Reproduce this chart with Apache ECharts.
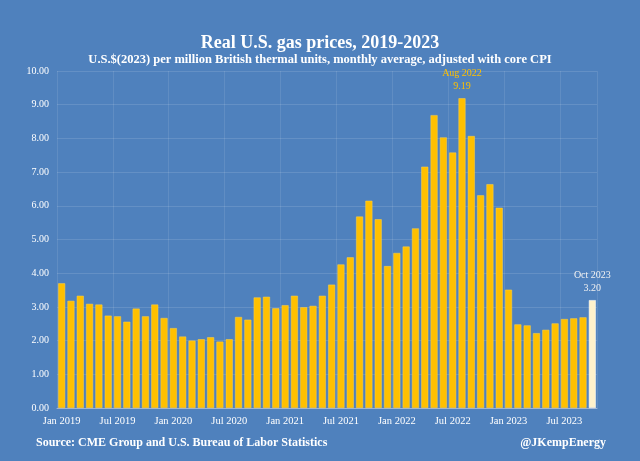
<!DOCTYPE html>
<html><head><meta charset="utf-8">
<script src="https://cdn.jsdelivr.net/npm/echarts@6/dist/echarts.min.js"></script>
<style>html,body{margin:0;padding:0;background:#4f81bd}#c{width:640px;height:461px}</style>
</head><body><div id="c"></div>
<script>
const months=['Jan','Feb','Mar','Apr','May','Jun','Jul','Aug','Sep','Oct','Nov','Dec'];
const categories=[];
for(let y=2019;y<=2023;y++)for(let m=0;m<12;m++){if(y===2023&&m>9)break;categories.push(months[m]+' '+y);}
const values=[3.70,3.18,3.33,3.09,3.07,2.74,2.72,2.56,2.95,2.72,3.07,2.67,
2.37,2.12,2.00,2.04,2.10,1.97,2.04,2.70,2.62,3.28,3.30,2.96,
3.05,3.33,2.99,3.03,3.33,3.66,4.26,4.47,5.68,6.15,5.60,4.21,
4.60,4.79,5.33,7.16,8.69,8.03,7.58,9.19,8.07,6.31,6.64,5.94,
3.51,2.48,2.45,2.22,2.32,2.51,2.64,2.66,2.69,3.20];
const annotated={'Aug 2022':'#ffc000','Oct 2023':'#f2f2f2'};
const font='Liberation Serif';
const data=values.map((v,i)=>{
  const c=categories[i];
  const o={value:v};
  if(c==='Oct 2023')o.itemStyle={color:'#fff2cc',borderColor:'#ffffff'};
  if(annotated[c])o.label={show:true,position:'top',formatter:c+'\n'+v.toFixed(2),color:annotated[c],fontFamily:font,fontSize:10,lineHeight:13};
  return o;
});
const chart=echarts.init(document.getElementById('c'));
chart.setOption({
  backgroundColor:'#4f81bd',
  title:{text:'Real U.S. gas prices, 2019-2023',subtext:'U.S.$(2023) per million British thermal units, monthly average, adjusted with core CPI',
    left:'center',top:29,itemGap:1,
    textStyle:{color:'#fff',fontFamily:font,fontWeight:'bold',fontSize:18},
    subtextStyle:{color:'#fff',fontFamily:font,fontWeight:'bold',fontSize:12.5}},
  graphic:[
    {type:'text',left:36,top:437,style:{text:'Source: CME Group and U.S. Bureau of Labor Statistics',fill:'#fff',font:'bold 12px "Liberation Serif"'}},
    {type:'text',right:34,top:437,style:{text:'@JKempEnergy',fill:'#fff',font:'bold 12px "Liberation Serif"'}}
  ],
  grid:{left:57,right:43,top:71,bottom:53},
  xAxis:{type:'category',data:categories,
    axisLine:{lineStyle:{color:'#9db3d6'}},axisTick:{show:false},
    axisLabel:{interval:5,color:'#fff',fontFamily:font,fontSize:10.5,margin:8},
    splitLine:{show:true,interval:5,lineStyle:{color:'rgba(255,255,255,0.1)'}}},
  yAxis:{type:'value',min:0,max:10,interval:1,
    axisLabel:{formatter:v=>v.toFixed(2),color:'#fff',fontFamily:font,fontSize:10},
    splitLine:{lineStyle:{color:'rgba(255,255,255,0.12)'}}},
  series:[{type:'bar',data:data,barCategoryGap:'25%',itemStyle:{color:'#ffc000',borderColor:'#ffd24d',borderWidth:0.5},animation:false}]
});
</script></body></html>
